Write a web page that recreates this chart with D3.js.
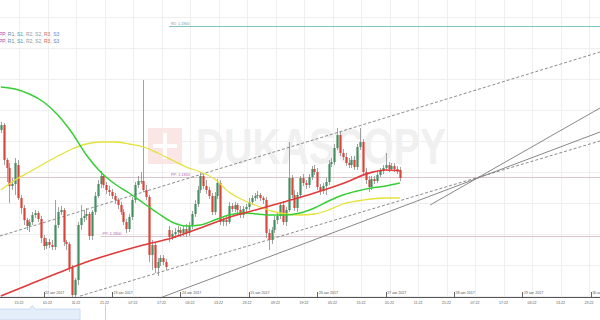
<!DOCTYPE html>
<html>
<head>
<meta charset="utf-8">
<script src="https://cdn.jsdelivr.net/npm/d3@7"></script>
<style>
  html, body { margin: 0; padding: 0; background: #fff; }
  svg { display: block; font-family: Arial, "Liberation Sans", sans-serif; }
</style>
</head>
<body>
<div id="chart"></div>
<script>
// hourly candles, first one at 21 Aug 2017 09:00
const candleStart = new Date(2017, 7, 21, 9, 0);

// [open, high, low, close]
const candles = [
  [1.18530, 1.18570, 1.18515, 1.18555], [1.18555, 1.18565, 1.18355, 1.18380],
  [1.18380, 1.18390, 1.18270, 1.18340], [1.18340, 1.18365, 1.18165, 1.18250],
  [1.18250, 1.18290, 1.18230, 1.18260], [1.18260, 1.18390, 1.18205, 1.18365],
  [1.18355, 1.18380, 1.18180, 1.18190], [1.18190, 1.18205, 1.18110, 1.18140],
  [1.18140, 1.18155, 1.18055, 1.18080], [1.18080, 1.18090, 1.18030, 1.18050],
  [1.18050, 1.18085, 1.18020, 1.18070], [1.18070, 1.18120, 1.18055, 1.18105],
  [1.18105, 1.18130, 1.18090, 1.18115], [1.18115, 1.18125, 1.18070, 1.18085],
  [1.18085, 1.18100, 1.17965, 1.17990], [1.17990, 1.18005, 1.17930, 1.17950],
  [1.17950, 1.17990, 1.17935, 1.17970], [1.17970, 1.17985, 1.17940, 1.17955],
  [1.17955, 1.17980, 1.17930, 1.17945], [1.17945, 1.18180, 1.17930, 1.18055],
  [1.18055, 1.18145, 1.18040, 1.18120], [1.18120, 1.18150, 1.18105, 1.18130],
  [1.18130, 1.18140, 1.17950, 1.17970], [1.17970, 1.17980, 1.17930, 1.17960],
  [1.17960, 1.17970, 1.17820, 1.17840], [1.17840, 1.17855, 1.17690, 1.17705],
  [1.17705, 1.17790, 1.17690, 1.17780], [1.17780, 1.18070, 1.17755, 1.18055],
  [1.18055, 1.18155, 1.18030, 1.18090], [1.18090, 1.18130, 1.18070, 1.18100],
  [1.18100, 1.18140, 1.18080, 1.18110], [1.18110, 1.18120, 1.17980, 1.18000],
  [1.18000, 1.18130, 1.17980, 1.18120], [1.18120, 1.18220, 1.18105, 1.18200],
  [1.18200, 1.18280, 1.18190, 1.18260], [1.18260, 1.18325, 1.18240, 1.18300],
  [1.18300, 1.18310, 1.18240, 1.18255], [1.18255, 1.18270, 1.18210, 1.18230],
  [1.18230, 1.18250, 1.18200, 1.18220], [1.18220, 1.18235, 1.18185, 1.18200],
  [1.18200, 1.18215, 1.18160, 1.18180], [1.18180, 1.18190, 1.18135, 1.18155],
  [1.18155, 1.18170, 1.18105, 1.18120], [1.18120, 1.18135, 1.18055, 1.18070],
  [1.18070, 1.18085, 1.18015, 1.18035], [1.18035, 1.18110, 1.18020, 1.18095],
  [1.18095, 1.18195, 1.18080, 1.18180], [1.18180, 1.18270, 1.18165, 1.18255],
  [1.18255, 1.18300, 1.18240, 1.18275], [1.18275, 1.18320, 1.18260, 1.18275],
  [1.18275, 1.18780, 1.18220, 1.18230], [1.18230, 1.18255, 1.18180, 1.18195],
  [1.18195, 1.18205, 1.17870, 1.17905], [1.17905, 1.17980, 1.17830, 1.17955],
  [1.17955, 1.17970, 1.17815, 1.17840], [1.17840, 1.17890, 1.17800, 1.17870],
  [1.17870, 1.17905, 1.17850, 1.17890], [1.17890, 1.17905, 1.17855, 1.17870],
  [1.17870, 1.17885, 1.17830, 1.17845], [1.18030, 1.18050, 1.17970, 1.17995],
  [1.17995, 1.18030, 1.17980, 1.18010], [1.18010, 1.18040, 1.17990, 1.18020],
  [1.18020, 1.18050, 1.18000, 1.18030], [1.18030, 1.18045, 1.17995, 1.18015],
  [1.18015, 1.18055, 1.18000, 1.18035], [1.18035, 1.18060, 1.17995, 1.18015],
  [1.18015, 1.18070, 1.18000, 1.18050], [1.18050, 1.18125, 1.18035, 1.18110],
  [1.18110, 1.18180, 1.18095, 1.18160], [1.18160, 1.18250, 1.18145, 1.18230],
  [1.18230, 1.18320, 1.18215, 1.18300], [1.18300, 1.18315, 1.18235, 1.18250],
  [1.18250, 1.18280, 1.18210, 1.18230], [1.18230, 1.18245, 1.18185, 1.18200],
  [1.18200, 1.18215, 1.18105, 1.18120], [1.18120, 1.18220, 1.18105, 1.18200],
  [1.18200, 1.18285, 1.18185, 1.18265], [1.18265, 1.18280, 1.18055, 1.18070],
  [1.18070, 1.18100, 1.18050, 1.18080], [1.18080, 1.18100, 1.18050, 1.18070],
  [1.18070, 1.18170, 1.18060, 1.18150], [1.18150, 1.18165, 1.18120, 1.18135],
  [1.18135, 1.18170, 1.18120, 1.18155], [1.18155, 1.18165, 1.18115, 1.18130],
  [1.18130, 1.18150, 1.18090, 1.18105], [1.18105, 1.18150, 1.18090, 1.18135],
  [1.18135, 1.18160, 1.18120, 1.18145], [1.18145, 1.18190, 1.18130, 1.18170],
  [1.18170, 1.18205, 1.18155, 1.18190], [1.18190, 1.18215, 1.18175, 1.18200],
  [1.18200, 1.18225, 1.18185, 1.18205], [1.18205, 1.18215, 1.18175, 1.18190],
  [1.18190, 1.18200, 1.18160, 1.18180], [1.18180, 1.18195, 1.17990, 1.18015],
  [1.18015, 1.18035, 1.17930, 1.17980], [1.17980, 1.18045, 1.17960, 1.18030],
  [1.18030, 1.18100, 1.18015, 1.18080], [1.18080, 1.18120, 1.18060, 1.18100],
  [1.18100, 1.18170, 1.18085, 1.18155], [1.18155, 1.18175, 1.18055, 1.18070],
  [1.18070, 1.18145, 1.18050, 1.18130], [1.18130, 1.18470, 1.18120, 1.18290],
  [1.18290, 1.18305, 1.18190, 1.18205], [1.18205, 1.18230, 1.18125, 1.18140],
  [1.18140, 1.18220, 1.18120, 1.18205], [1.18205, 1.18300, 1.18190, 1.18290],
  [1.18290, 1.18310, 1.18250, 1.18265], [1.18265, 1.18280, 1.18235, 1.18255],
  [1.18255, 1.18310, 1.18240, 1.18295], [1.18295, 1.18350, 1.18280, 1.18335],
  [1.18335, 1.18355, 1.18305, 1.18320], [1.18320, 1.18340, 1.18230, 1.18245],
  [1.18245, 1.18260, 1.18205, 1.18225], [1.18225, 1.18265, 1.18210, 1.18250],
  [1.18250, 1.18290, 1.18205, 1.18270], [1.18270, 1.18380, 1.18255, 1.18360],
  [1.18360, 1.18390, 1.18345, 1.18370], [1.18370, 1.18460, 1.18355, 1.18440],
  [1.18440, 1.18540, 1.18430, 1.18505], [1.18505, 1.18525, 1.18400, 1.18415],
  [1.18415, 1.18435, 1.18380, 1.18395], [1.18395, 1.18415, 1.18350, 1.18365],
  [1.18365, 1.18390, 1.18340, 1.18355], [1.18355, 1.18400, 1.18340, 1.18380],
  [1.18380, 1.18400, 1.18330, 1.18345], [1.18345, 1.18460, 1.18330, 1.18445],
  [1.18445, 1.18540, 1.18430, 1.18470], [1.18470, 1.18485, 1.18305, 1.18320],
  [1.18320, 1.18340, 1.18260, 1.18280], [1.18280, 1.18300, 1.18220, 1.18245],
  [1.18245, 1.18300, 1.18230, 1.18285], [1.18285, 1.18300, 1.18260, 1.18275],
  [1.18275, 1.18320, 1.18265, 1.18305], [1.18305, 1.18340, 1.18295, 1.18325],
  [1.18325, 1.18355, 1.18310, 1.18340], [1.18340, 1.18415, 1.18330, 1.18355],
  [1.18355, 1.18370, 1.18320, 1.18335], [1.18335, 1.18365, 1.18325, 1.18350],
  [1.18350, 1.18365, 1.18320, 1.18335], [1.18335, 1.18350, 1.18310, 1.18330],
  [1.18330, 1.18345, 1.18275, 1.18290]
];

// moving averages, [candle index, price]
const maRed = [
  [0, 1.17700], [10, 1.17758], [20, 1.17815], [30, 1.17870], [40, 1.17915],
  [50, 1.17955], [60, 1.17990], [70, 1.18040], [80, 1.18093], [90, 1.18133],
  [100, 1.18173], [110, 1.18215], [120, 1.18263], [130, 1.18318], [135, 1.18330],
  [140, 1.18325]
];
const maGreen = [
  [0, 1.18745], [5, 1.18735], [10, 1.18710], [15, 1.18670], [20, 1.18605],
  [25, 1.18515], [30, 1.18405], [35, 1.18320], [40, 1.18260], [45, 1.18215],
  [50, 1.18165], [55, 1.18115], [60, 1.18070], [65, 1.18050], [70, 1.18055],
  [75, 1.18080], [80, 1.18105], [85, 1.18115], [90, 1.18110], [95, 1.18105],
  [100, 1.18105], [105, 1.18115], [110, 1.18140], [115, 1.18175], [120, 1.18205],
  [125, 1.18225], [130, 1.18240], [135, 1.18250], [140, 1.18265]
];
const maYellow = [
  [0, 1.18230], [5, 1.18280], [10, 1.18320], [15, 1.18360], [20, 1.18400],
  [25, 1.18435], [30, 1.18460], [35, 1.18470], [40, 1.18470], [45, 1.18460],
  [50, 1.18445], [55, 1.18415], [60, 1.18380], [65, 1.18345], [70, 1.18320],
  [75, 1.18285], [80, 1.18220], [85, 1.18180], [90, 1.18150], [95, 1.18125],
  [100, 1.18110], [105, 1.18105], [110, 1.18110], [115, 1.18130], [120, 1.18160],
  [125, 1.18175], [130, 1.18185], [135, 1.18190], [140, 1.18190]
];

// trend channel, endpoints as [candle index, price]
const dashedUpper = [[-0.3, 1.18000], [210.2, 1.18920]];
const dashedLower = [[27.8, 1.17700], [210.2, 1.18475]];
const solidA = [[55.8, 1.17690], [210.2, 1.18520]];
const solidB = [[150.6, 1.18155], [210.2, 1.18640]];

// pivot levels: [label, price, first candle index]
const pivots = [
  ["R1: 1.1905", 1.19050, 59],
  ["PP: 1.1830", 1.18295, -3],
  ["PP: 1.1800", 1.18000, 35]
];
const pivotLabelAt = [59, 59, 35];

const gridPrices = [1.19095, 1.18940, 1.18785, 1.18630, 1.18475, 1.18320,
  1.18165, 1.18010, 1.17855, 1.17700];

const timeLabels = ["15:22", "01:22", "11:22", "21:22", "07:22", "17:22", "03:22",
  "13:22", "23:22", "09:22", "19:22", "05:22", "15:22", "01:22", "11:22", "21:22",
  "07:22", "17:22", "03:22", "13:22", "23:22"];
const dateLabels = ["22 авг 2017", "23 авг 2017", "24 авг 2017", "25 авг 2017",
  "26 авг 2017", "27 авг 2017", "28 авг 2017", "29 авг 2017", "30 авг 2017"];

const legendRows = [
  [["PP", "#b23fb5"], ["R1", "#4d8fb3"], ["S1", "#4d8fb3"], ["R2", "#8d9aa6"],
   ["S2", "#8d9aa6"], ["R3", "#d06a6a"], ["S3", "#5f86cf"]],
  [["PP", "#b23fb5"], ["R1", "#4d8fb3"], ["S1", "#4d8fb3"], ["R2", "#8d9aa6"],
   ["S2", "#8d9aa6"], ["R3", "#e0603a"], ["S3", "#5f86cf"]]
];

// navigator overview, [candle index, level 0..1]
const navigator = [[-3, 0.9], [10, 0.9], [11, 1.2], [12, 0.9], [27.8, 0.9]];

const width = 600, height = 320, axisY = 297;
const hour = 3600e3;
const tAt = i => new Date(candleStart.getTime() + i * hour);

const x = d3.scaleTime()
  .domain([new Date(2017, 7, 21, 8, 42), new Date(2017, 7, 30, 3, 12)])
  .range([0, width]);
const y = d3.scaleLinear().domain([1.17695, 1.19180]).range([axisY, 0]);

const svg = d3.select("#chart").append("svg")
  .attr("width", width).attr("height", height);

// grid
const tickTimes = timeLabels.map((d, i) => d3.timeHour.offset(new Date(2017, 7, 21, 15, 22), i * 10));
svg.append("g").selectAll("line").data(tickTimes).join("line")
  .attr("x1", d => Math.round(x(d)) + 0.5).attr("x2", d => Math.round(x(d)) + 0.5)
  .attr("y1", 0).attr("y2", axisY)
  .attr("stroke", "#efefef");
svg.append("g").selectAll("line").data(gridPrices).join("line")
  .attr("x1", 0).attr("x2", width)
  .attr("y1", d => Math.round(y(d)) + 0.5).attr("y2", d => Math.round(y(d)) + 0.5)
  .attr("stroke", "#efefef");

// watermark
const wm = svg.append("g").attr("opacity", 0.9);
wm.append("rect").attr("x", 148).attr("y", 128).attr("width", 34).attr("height", 36)
  .attr("fill", "#fbe4e4");
wm.append("rect").attr("x", 163).attr("y", 133).attr("width", 4).attr("height", 26).attr("fill", "#fff");
wm.append("rect").attr("x", 153).attr("y", 144).attr("width", 24).attr("height", 4).attr("fill", "#fff");
wm.append("text").attr("x", 196).attr("y", 164)
  .attr("font-size", 50).attr("font-weight", "bold")
  .attr("textLength", 250).attr("lengthAdjust", "spacingAndGlyphs")
  .attr("fill", "#efefef").text("DUKASCOPY");

// pivot levels
const pivotColors = ["#7fc4c4", "#dcc3cc", "#dcc3cc"];
const pivotText = ["#5aa3b5", "#b065b0", "#b065b0"];
const pg = svg.append("g");
pg.selectAll("line").data(pivots).join("line")
  .attr("x1", d => Math.max(0, x(tAt(d[2])))).attr("x2", width)
  .attr("y1", d => Math.round(y(d[1])) + 0.5).attr("y2", d => Math.round(y(d[1])) + 0.5)
  .attr("stroke", (d, i) => pivotColors[i]).attr("stroke-width", 1);
pg.selectAll("text").data(pivots).join("text")
  .attr("x", (d, i) => x(tAt(pivotLabelAt[i])) + 2)
  .attr("y", d => y(d[1]) - 0.8)
  .attr("font-size", 3.8)
  .attr("fill", (d, i) => pivotText[i])
  .text(d => d[0]);

// channel lines
const seg = d3.line().x(d => x(tAt(d[0]))).y(d => y(d[1]));
svg.append("g").selectAll("path").data([dashedUpper, dashedLower]).join("path")
  .attr("d", seg).attr("fill", "none").attr("stroke", "#6f6f6f")
  .attr("stroke-width", 0.8).attr("stroke-dasharray", "3,2");
svg.append("g").selectAll("path").data([solidA, solidB]).join("path")
  .attr("d", seg).attr("fill", "none").attr("stroke", "#7a7a7a").attr("stroke-width", 0.9);

// candles
const cg = svg.append("g");
const up = d => d[3] >= d[0];
cg.selectAll("line").data(candles).join("line")
  .attr("x1", (d, i) => Math.round(x(tAt(i))) + 0.5)
  .attr("x2", (d, i) => Math.round(x(tAt(i))) + 0.5)
  .attr("y1", d => y(d[1])).attr("y2", d => y(d[2]))
  .attr("stroke", "#8a8a8a").attr("stroke-width", 0.8);
cg.selectAll("rect").data(candles).join("rect")
  .attr("x", (d, i) => Math.round(x(tAt(i))) - 0.6)
  .attr("width", 2.2)
  .attr("y", d => y(Math.max(d[0], d[3])))
  .attr("height", d => Math.max(0.8, Math.abs(y(d[0]) - y(d[3]))))
  .attr("fill", d => up(d) ? "#468f63" : "#d8463a");

// moving averages
const maLine = d3.line().curve(d3.curveMonotoneX).x(d => x(tAt(d[0]))).y(d => y(d[1]));
svg.append("path").datum(maYellow).attr("d", maLine).attr("fill", "none")
  .attr("stroke", "#e4e23a").attr("stroke-width", 1.3);
svg.append("path").datum(maGreen).attr("d", maLine).attr("fill", "none")
  .attr("stroke", "#36cf36").attr("stroke-width", 1.5);
svg.append("path").datum(maRed).attr("d", maLine).attr("fill", "none")
  .attr("stroke", "#e03a3a").attr("stroke-width", 1.6);

// legend
const lg = svg.append("g").attr("font-size", 5);
legendRows.forEach((row, r) => {
  const t = lg.append("text").attr("x", -1).attr("y", 35.5 + r * 7.5);
  row.forEach((p, k) => {
    t.append("tspan").attr("fill", p[1]).text(p[0]);
    if (k < row.length - 1) t.append("tspan").attr("fill", "#888").text(", ");
  });
});

// x axis
svg.append("line").attr("x1", 0).attr("x2", width)
  .attr("y1", axisY + 0.5).attr("y2", axisY + 0.5).attr("stroke", "#555");
svg.append("g").selectAll("text").data(timeLabels).join("text")
  .attr("x", (d, i) => x(tickTimes[i])).attr("y", axisY + 7)
  .attr("text-anchor", "middle").attr("font-size", 3.6).attr("fill", "#555")
  .text(d => d);
const dateTimes = dateLabels.map((d, i) => new Date(2017, 7, 22 + i));
const dg = svg.append("g");
dg.selectAll("line").data(dateTimes).join("line")
  .attr("x1", d => Math.round(x(d)) + 0.5).attr("x2", d => Math.round(x(d)) + 0.5)
  .attr("y1", axisY - 5).attr("y2", axisY).attr("stroke", "#666");
dg.selectAll("text").data(dateLabels).join("text")
  .attr("x", (d, i) => x(dateTimes[i]) + 1.5).attr("y", axisY - 3)
  .attr("font-size", 3.6).attr("fill", "#555").text(d => d);

// navigator
const nY = d3.scaleLinear().domain([0, 1.4]).range([320, 303]);
svg.append("path").datum(navigator)
  .attr("d", d3.area().x(d => x(tAt(d[0]))).y0(320).y1(d => nY(d[1])))
  .attr("fill", "#e4eefa").attr("stroke", "#b3cbea").attr("stroke-width", 0.6);
svg.append("line").attr("x1", 105.5).attr("x2", 105.5).attr("y1", 305).attr("y2", 320)
  .attr("stroke", "#d0d0d0");
</script>
</body>
</html>
